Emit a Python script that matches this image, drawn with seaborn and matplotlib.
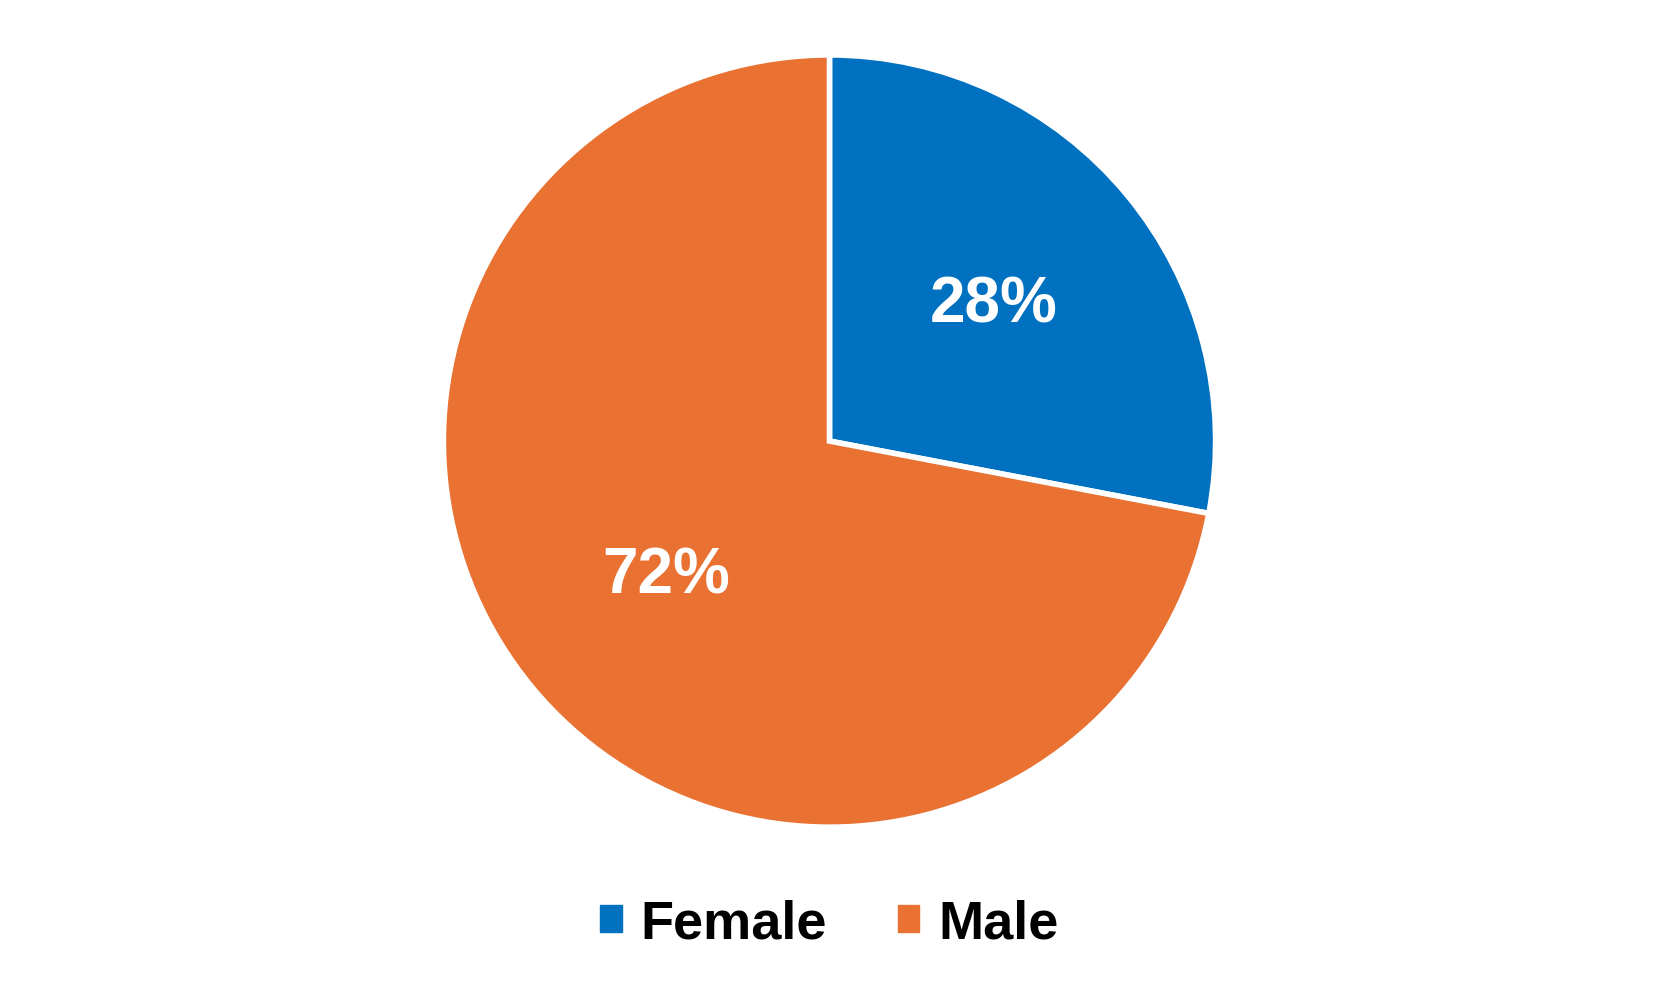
import matplotlib
matplotlib.use("Agg")
import matplotlib.pyplot as plt
import seaborn as sns
from matplotlib.patches import Patch

sns.set_style("white")
plt.rcParams['font.family'] = ['Liberation Sans', 'DejaVu Sans']

labels = ['Female', 'Male']
shares = [28, 72]
colors = ['#0070C0', '#E97132']

fig = plt.figure(figsize=(16.59, 9.99), dpi=100)
ax = fig.add_axes([0.1, 0.172, 0.8, 0.773])

wedges, texts, autotexts = ax.pie(
    shares, colors=colors, startangle=90, counterclock=False, radius=1.25,
    autopct='%d%%', pctdistance=0.55,
    wedgeprops=dict(edgecolor='white', linewidth=4),
    textprops=dict(color='white', fontsize=46, fontweight='bold'))
ax.set_aspect('equal')

handles = [Patch(facecolor=c, edgecolor=c) for c in colors]
leg = fig.legend(handles, labels, loc='center', bbox_to_anchor=(0.5, 0.075), ncol=2,
                 frameon=False, prop=dict(size=39, weight='bold'),
                 handlelength=0.4, handleheight=0.4, handletextpad=0.35, columnspacing=1.3)
for t in leg.get_texts():
    t.set_color('black')

fig.savefig('out.png', dpi=100, facecolor='white')
